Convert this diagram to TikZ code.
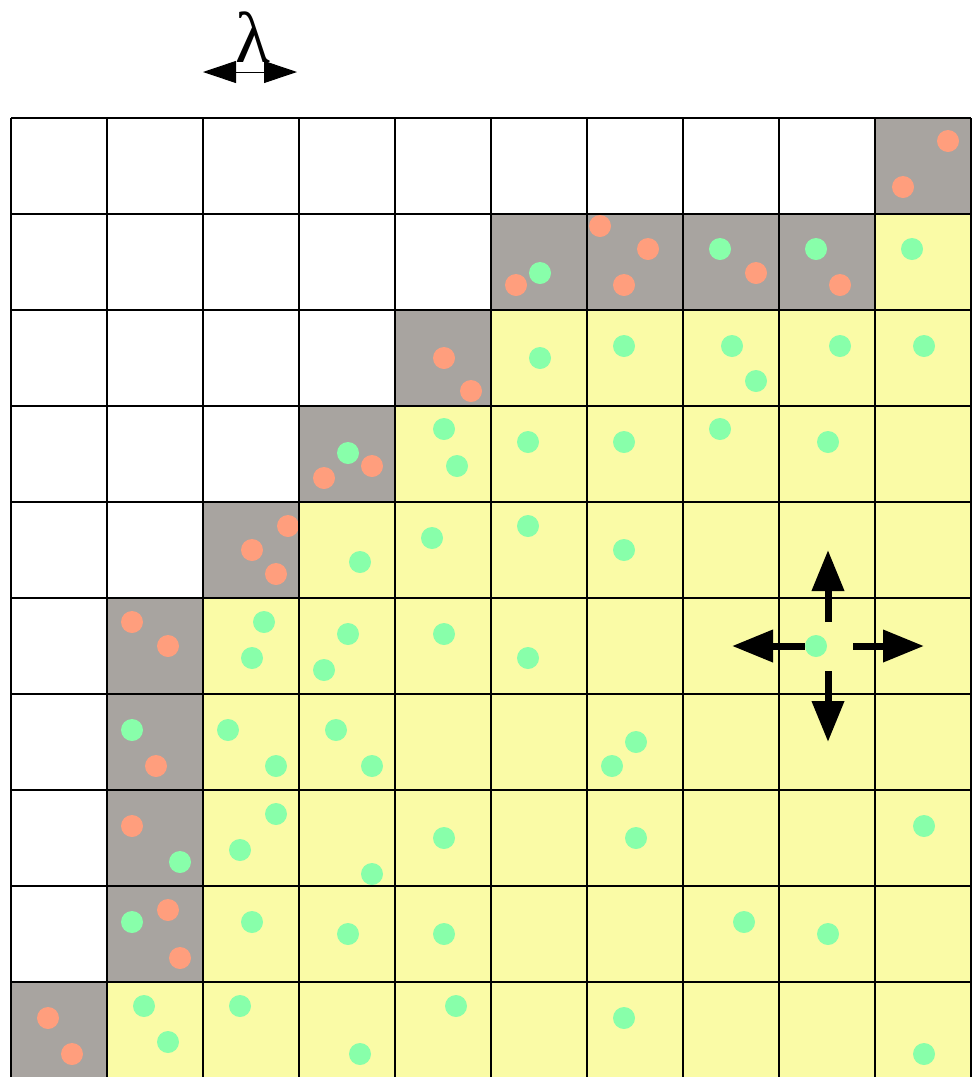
\documentclass[tikz,border=0pt]{standalone}
\usepackage{fontspec}
\usepackage{tikz}
\usetikzlibrary{arrows.meta}
\newfontfamily\greekfont{Liberation Serif}
\definecolor{cellGray}{RGB}{168,164,160}
\definecolor{cellYellow}{RGB}{250,251,166}
\definecolor{dotSalmon}{RGB}{255,158,125}
\definecolor{dotGreen}{RGB}{136,255,170}

\begin{document}
\begin{tikzpicture}[x=1pt,y=-1pt,
  gridline/.style={black, line width=1.8pt},
  move/.style={line width=7pt, -{Triangle[length=41pt,width=31pt]}},
  span/.style={line width=1pt, {Triangle[length=33pt,width=22pt]}-{Triangle[length=33pt,width=22pt]}}]
\useasboundingbox (0,0) rectangle (972,1077);

% cells: white left part, gray band, yellow rest
\fill[cellYellow] (11,118) rectangle (971,1078);
\foreach \r/\w/\g in {0/9/9,1/5/8,2/4/4,3/3/3,4/2/2,5/1/1,6/1/1,7/1/1,8/1/1,9/0/0}
{
    \fill[white] (11,118+96*\r) rectangle (11+96*\w,214+96*\r);
    \fill[cellGray] (11+96*\w,118+96*\r) rectangle (107+96*\g,214+96*\r);
}

\foreach \x/\y in {948/141,903/187,516/285,600/226,648/249,624/285,756/273,840/285,
    444/358,471/391,372/466,324/478,288/526,252/550,276/574,132/622,168/646,
    156/766,132/826,168/910,180/958,48/1018,72/1054}
{
    \fill[dotSalmon] (\x,\y) circle (11pt);
}
\foreach \x/\y in {540/273,720/249,816/249,912/249,540/358,624/346,732/346,756/381,
    840/346,924/346,348/453,444/429,457/466,528/442,624/442,720/429,828/442,
    360/562,432/538,528/526,624/550,264/622,252/658,348/634,324/670,444/634,
    528/658,816/646,132/730,228/730,276/766,336/730,372/766,636/742,612/766,
    180/862,276/814,240/850,372/874,444/838,636/838,924/826,132/922,252/922,
    348/934,444/934,744/922,828/934,144/1006,168/1042,240/1006,360/1054,
    456/1006,624/1018,924/1054}
{
    \fill[dotGreen] (\x,\y) circle (11pt);
}

\foreach \i in {0,...,10}
{
    \draw[gridline] (11+96*\i,118) -- (11+96*\i,1078);
    \draw[gridline] (11,118+96*\i) -- (971,118+96*\i);
}

% step length
\node[font=\greekfont\fontsize{72}{72}\selectfont, inner sep=0pt, anchor=base] (lam) at (253,62) {λ};
\coordinate (lamL) at (203,72);
\coordinate (lamR) at (297,72);
\draw[span] (lamL) -- (lamR);

% moves of one particle
\coordinate (mvL0) at (805,646);
\coordinate (mvL1) at (732,646);
\coordinate (mvR0) at (853,646);
\coordinate (mvR1) at (924,646);
\coordinate (mvU0) at (828,622);
\coordinate (mvU1) at (828,550);
\coordinate (mvD0) at (828,671);
\coordinate (mvD1) at (828,742);
\draw[move] (mvL0) -- (mvL1);
\draw[move] (mvR0) -- (mvR1);
\draw[move] (mvU0) -- (mvU1);
\draw[move] (mvD0) -- (mvD1);
\end{tikzpicture}
\end{document}
